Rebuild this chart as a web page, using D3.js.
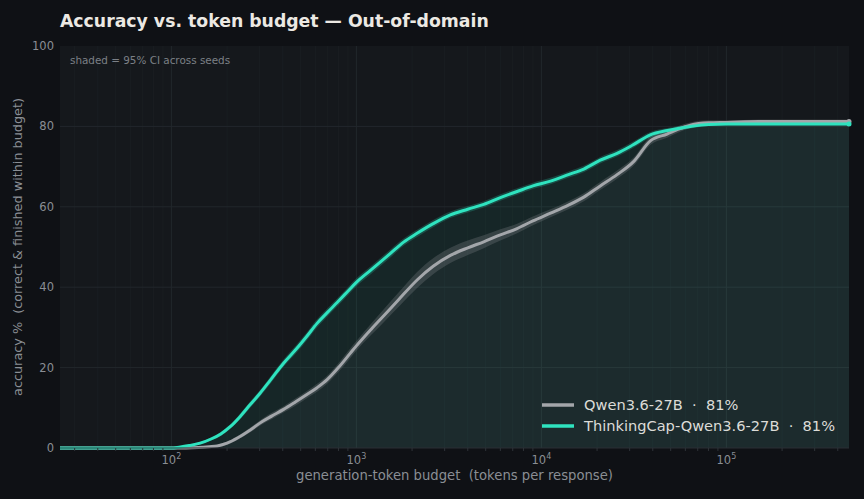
<!DOCTYPE html>
<html><head><meta charset="utf-8">
<script src="https://cdn.jsdelivr.net/npm/d3@7"></script>
<style>
html,body{margin:0;padding:0;background:#0f1115;}
svg{display:block;}
text{white-space:pre;}
</style></head><body>
<svg id="c" width="864" height="499"></svg>
<script>
// ---- data ----
const seriesNames = ["Qwen3.6-27B", "ThinkingCap-Qwen3.6-27B"];
const finalAcc = [81, 81];
const xTicks = [100, 1000, 10000, 100000];
const yTicks = [0, 20, 40, 60, 80, 100];

const qwenBudget = [25,120,140,160,177,200,230,267,310,350,404,470,540,613,695,800,928,1000,1200,1406,1700,2129,2600,3221,4000,4879,6000,7390,9000,11200,14000,16950,20800,25650,31600,38800,47800,55000,63800,80000,100000,150000,460000];
const qwenAcc    = [0,0,0.1,0.3,0.5,1.2,2.6,4.5,6.6,8.0,9.6,11.5,13.3,15.0,17.0,20.0,23.6,25.4,29.5,32.9,37.0,41.8,45.2,47.9,49.8,51.3,53.0,54.6,56.5,58.4,60.4,62.4,65.2,68.0,71.3,76.4,78.1,79.3,80.3,80.9,81.0,81.2,81.2];
const qwenCI     = [0,0,0.1,0.2,0.3,0.4,0.5,0.6,0.7,0.8,0.8,0.9,0.9,1.0,1.0,1.1,1.2,1.2,1.4,1.6,1.8,2.0,2.0,1.9,1.8,1.6,1.4,1.2,1.1,1.0,1.0,1.0,1.0,1.0,1.0,1.0,0.9,0.8,0.7,0.6,0.5,0.5,0.5];

const capBudget = [25,100,110,125,143,165,185,208,235,267,300,343,404,477,540,613,700,787,900,1000,1200,1528,1800,2129,2600,3221,4000,4879,6000,7390,9000,11200,14000,16950,20800,25650,31000,38800,48000,63800,80000,100000,200000,460000];
const capAcc    = [0,0,0.2,0.6,1.2,2.3,3.5,5.3,7.8,10.8,13.5,16.9,21.1,24.8,27.8,31.0,33.8,36.2,39.0,41.2,44.3,48.4,51.2,53.4,55.8,58.0,59.4,60.6,62.3,63.8,65.2,66.4,68.0,69.4,71.6,73.3,75.3,77.9,79.0,80.0,80.5,80.6,80.6,80.6];
const capCI     = [0,0,0.1,0.2,0.3,0.4,0.5,0.6,0.7,0.8,0.8,0.9,0.9,1.0,1.0,1.0,1.0,1.0,1.0,1.0,1.0,1.0,0.9,0.9,0.9,0.8,0.8,0.8,0.8,0.8,0.8,0.8,0.8,0.8,0.8,0.8,0.8,0.7,0.6,0.5,0.4,0.4,0.4,0.4];

const colors = ["#a3a6aa", "#2fe3bf"];

// ---- layout ----
const W = 864, H = 499;
const m = {l:60, r:15, t:46, b:51};
const iw = W - m.l - m.r, ih = H - m.t - m.b;
const svg = d3.select("#c");
svg.append("rect").attr("width",W).attr("height",H).attr("fill","#0f1115");

const x = d3.scaleLog().domain([25, 460000]).range([0, iw]);
const y = d3.scaleLinear().domain([0, 100]).range([ih, 0]);

const g = svg.append("g").attr("transform",`translate(${m.l},${m.t})`);
g.append("rect").attr("width",iw).attr("height",ih).attr("fill","#15181c");

svg.append("defs").append("clipPath").attr("id","clip")
  .append("rect").attr("width",iw).attr("height",ih);

// minor grid
const minor = [];
for (let e=1; e<=5; e++) for (let k=2; k<=9; k++){ const v=k*Math.pow(10,e); if (v>=25 && v<=460000) minor.push(v); }
g.append("g").selectAll("line").data(minor).join("line")
  .attr("x1",d=>x(d)).attr("x2",d=>x(d)).attr("y1",0).attr("y2",ih)
  .attr("stroke","#1b1f23").attr("stroke-width",0.8);
g.append("g").selectAll("line").data(xTicks).join("line")
  .attr("x1",d=>x(d)).attr("x2",d=>x(d)).attr("y1",0).attr("y2",ih)
  .attr("stroke","#22272c").attr("stroke-width",1);
g.append("g").selectAll("line").data(yTicks.slice(1,-1)).join("line")
  .attr("x1",0).attr("x2",iw).attr("y1",d=>y(d)).attr("y2",d=>y(d))
  .attr("stroke","#22272c").attr("stroke-width",1);

const series = [
  {name:seriesNames[0], b:qwenBudget, a:qwenAcc, ci:qwenCI, color:colors[0], fillOp:0.05, ciOp:0.22},
  {name:seriesNames[1], b:capBudget, a:capAcc, ci:capCI, color:colors[1], fillOp:0.07, ciOp:0.22}
];
const plot = g.append("g").attr("clip-path","url(#clip)");
const curve = d3.curveMonotoneX;

series.forEach(s=>{
  const pts = s.b.map((b,i)=>({b, a:s.a[i], ci:s.ci[i]}));
  plot.append("path").datum(pts)
    .attr("d", d3.area().x(d=>x(d.b)).y0(ih).y1(d=>y(d.a)).curve(curve))
    .attr("fill", s.color).attr("opacity", s.fillOp);
});
series.forEach(s=>{
  const pts = s.b.map((b,i)=>({b, a:s.a[i], ci:s.ci[i]}));
  plot.append("path").datum(pts)
    .attr("d", d3.area().x(d=>x(d.b)).y0(d=>y(d.a-d.ci)).y1(d=>y(d.a+d.ci)).curve(curve))
    .attr("fill", s.color).attr("opacity", s.ciOp);
});
series.forEach(s=>{
  const pts = s.b.map((b,i)=>({b, a:s.a[i]}));
  g.append("path").datum(pts)
    .attr("d", d3.line().x(d=>x(d.b)).y(d=>y(d.a)).curve(curve))
    .attr("fill","none").attr("stroke", s.color).attr("stroke-width",3).attr("stroke-linejoin","round");
  g.append("circle").attr("cx", x(s.b[s.b.length-1])).attr("cy", y(s.a[s.a.length-1]))
    .attr("r",2.5).attr("fill", s.color);
});

// axes
g.append("line").attr("x1",0).attr("x2",iw).attr("y1",ih).attr("y2",ih).attr("stroke","#2a2f34");
g.append("g").selectAll("line").data(minor).join("line")
  .attr("x1",d=>x(d)).attr("x2",d=>x(d)).attr("y1",ih).attr("y2",ih+3)
  .attr("stroke","#2e3338").attr("stroke-width",1);

const tickColor = "#8a8e94";
g.append("g").selectAll("text").data(yTicks).join("text")
  .attr("x",-6).attr("y",d=>y(d)).attr("dy","0.35em").attr("text-anchor","end")
  .attr("font-family","DejaVu Sans").attr("font-size",11.5).attr("fill",tickColor)
  .text(d=>d);

const xt = g.append("g").selectAll("text").data(xTicks).join("text")
  .attr("x",d=>x(d)).attr("y",ih+16).attr("text-anchor","middle")
  .attr("font-family","DejaVu Sans").attr("font-size",11.5).attr("fill",tickColor);
xt.append("tspan").text("10");
xt.append("tspan").attr("dy",-5).attr("font-size",8).text(d=>Math.round(Math.log10(d)));

// axis titles
svg.append("text").attr("x", m.l+iw/2).attr("y", 480).attr("text-anchor","middle")
  .attr("font-family","DejaVu Sans").attr("font-size",13.2).attr("fill",tickColor)
  .text("generation-token budget  (tokens per response)");
svg.append("text").attr("transform",`translate(22,${m.t+ih/2}) rotate(-90)`).attr("text-anchor","middle")
  .attr("font-family","DejaVu Sans").attr("font-size",12.8).attr("fill",tickColor)
  .text("accuracy %  (correct & finished within budget)");

// title
svg.append("text").attr("x",60).attr("y",27)
  .attr("font-family","DejaVu Sans").attr("font-weight","bold").attr("font-size",17.3).attr("fill","#ece9e3")
  .text("Accuracy vs. token budget — Out-of-domain");

// annotation
g.append("text").attr("x",10).attr("y",18)
  .attr("font-family","DejaVu Sans").attr("font-size",10.4).attr("fill","#7c8086")
  .text("shaded = 95% CI across seeds");

// legend
const leg = g.append("g").attr("transform",`translate(${542-m.l},${405-m.t})`);
series.forEach((s,i)=>{
  const r = leg.append("g").attr("transform",`translate(0,${i*21})`);
  r.append("line").attr("x1",0).attr("x2",32).attr("y1",0).attr("y2",0)
    .attr("stroke",s.color).attr("stroke-width",3.5);
  r.append("text").attr("x",42).attr("y",0).attr("dy","0.35em")
    .attr("font-family","DejaVu Sans").attr("font-size",14.6).attr("fill","#dcdcd8")
    .text(`${s.name}  ·  ${finalAcc[i]}%`);
});
</script>
</body></html>
